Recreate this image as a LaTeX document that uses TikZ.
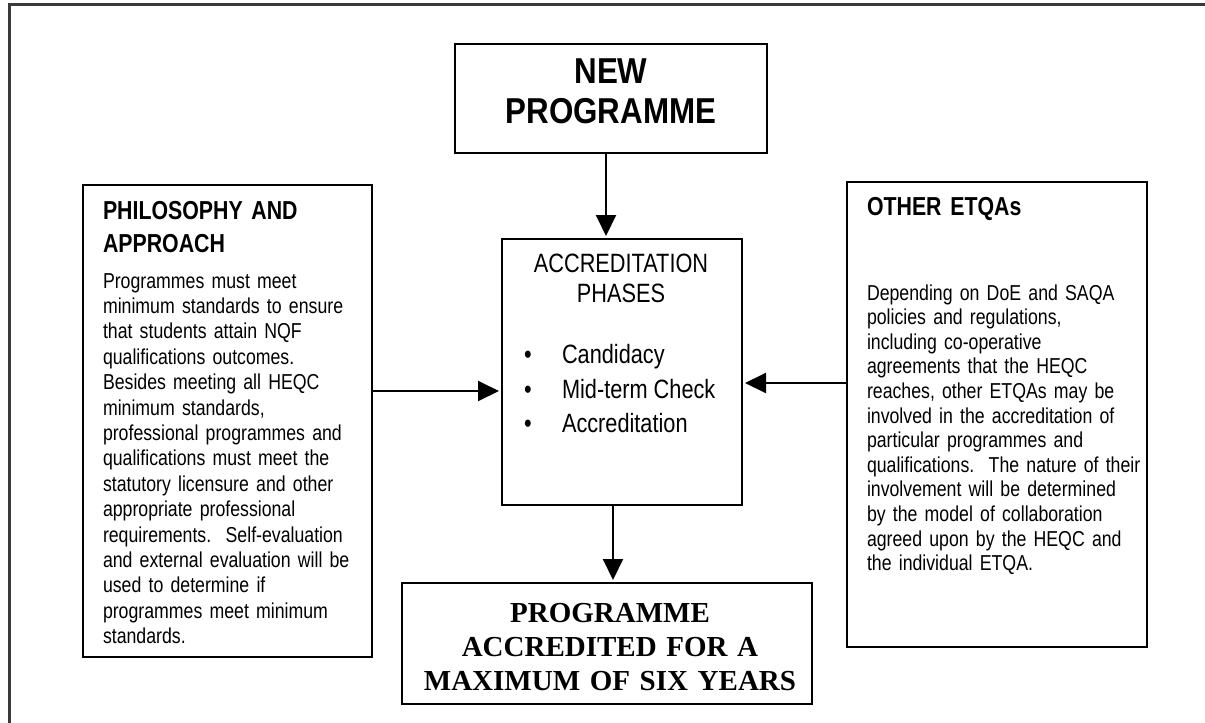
\documentclass[tikz,border=0pt]{standalone}
\usepackage{fontspec}
\setmainfont{Liberation Sans}
\newfontfamily\narrowfont[FakeStretch=0.82]{Liberation Sans}
\newfontfamily\headfont[FakeStretch=0.87]{Liberation Sans}
\newfontfamily\timesfont{Liberation Serif}
\usetikzlibrary{arrows.meta}
\definecolor{framegray}{RGB}{58,58,58}

\begin{document}
\begin{tikzpicture}[x=1pt,y=-1pt]
\tikzstyle{box}=[rectangle,draw=black,line width=2pt,
inner sep=0pt,outer sep=0pt]
\tikzstyle{txt}=[inner sep=0pt,outer sep=0pt,anchor=base west,align=left]
\tikzstyle{arrow}=[line width=2pt,-{Triangle[length=21pt,width=20pt]},shorten >=3pt]
\useasboundingbox (0,0) rectangle (1205,723);

\draw[line width=3.5pt,framegray] (9.5,723) -- (9.5,4.5) -- (1205,4.5);

\node[box,minimum width=312pt,minimum height=109pt] at (611,98.5) (newprog) {};
\node[box,minimum width=289pt,minimum height=472pt] at (227.5,421) (philo) {};
\node[box,minimum width=240pt,minimum height=266pt] at (622,372) (accr) {};
\node[box,minimum width=300pt,minimum height=465pt] at (997,414.5) (other) {};
\node[box,line width=2.5pt,minimum width=410pt,minimum height=121pt] at (607,643.5) (result) {};

\node[txt,anchor=base,text width=300pt,align=center,
font=\headfont\bfseries\fontsize{36}{40}\selectfont] at (611,83) (newtext) {NEW\\PROGRAMME};
\node[txt,anchor=base,text width=404pt,align=center,
font=\timesfont\bfseries\fontsize{29}{34}\selectfont] at (610,622) (resulttext)
{PROGRAMME\\ACCREDITED FOR A\\MAXIMUM OF SIX YEARS};

\node[txt,text width=265pt,font=\narrowfont\bfseries\fontsize{26}{33}\selectfont] at (103,219) (philohead) {PHILOSOPHY AND\\APPROACH};
\node[txt,text width=265pt,font=\narrowfont\fontsize{21.6}{25.4}\selectfont] at (103,288) (philotext)
{Programmes must meet\\
minimum standards to ensure\\
that students attain NQF\\
qualifications outcomes.\\
Besides meeting all HEQC\\
minimum standards,\\
professional programmes and\\
qualifications must meet the\\
statutory licensure and other\\
appropriate professional\\
requirements.\ \ Self-evaluation\\
and external evaluation will be\\
used to determine if\\
programmes meet minimum\\
standards.};

\node[txt,text width=275pt,font=\narrowfont\bfseries\fontsize{26}{33}\selectfont] at (867,215) (otherhead) {OTHER ETQAs};
\node[txt,text width=275pt,font=\narrowfont\fontsize{21.6}{24.6}\selectfont] at (867,300) (othertext)
{Depending on DoE and SAQA\\
policies and regulations,\\
including co-operative\\
agreements that the HEQC\\
reaches, other ETQAs may be\\
involved in the accreditation of\\
particular programmes and\\
qualifications.\ \ The nature of their\\
involvement will be determined\\
by the model of collaboration\\
agreed upon by the HEQC and\\
the individual ETQA.};

\node[txt,anchor=base,text width=236pt,align=center,font=\narrowfont\fontsize{26.5}{30}\selectfont] at (621,272) (accrhead) {ACCREDITATION\\PHASES};
\node[txt,font=\narrowfont\fontsize{26.5}{30.5}\selectfont] at (524,363) (dot1) {\textbullet};
\node[txt,font=\narrowfont\fontsize{26.5}{30.5}\selectfont] at (524,398) (dot2) {\textbullet};
\node[txt,font=\narrowfont\fontsize{26.5}{30.5}\selectfont] at (524,432) (dot3) {\textbullet};
\node[txt,font=\narrowfont\fontsize{26.5}{30.5}\selectfont] at (562,363) (phase1) {Candidacy};
\node[txt,font=\narrowfont\fontsize{26.5}{30.5}\selectfont] at (562,398) (phase2) {Mid-term Check};
\node[txt,font=\narrowfont\fontsize{26.5}{30.5}\selectfont] at (562,432) (phase3) {Accreditation};

\coordinate (topx) at (606,0);
\coordinate (botx) at (613,0);
\coordinate (lefty) at (0,391);
\coordinate (righty) at (0,383);

\draw[arrow] (newprog.south -| topx) -- (accr.north -| topx);
\draw[arrow] (philo.east |- lefty) -- (accr.west |- lefty);
\draw[arrow] (other.west |- righty) -- (accr.east |- righty);
\draw[arrow] (accr.south -| botx) -- (result.north -| botx);

\end{tikzpicture}
\end{document}
